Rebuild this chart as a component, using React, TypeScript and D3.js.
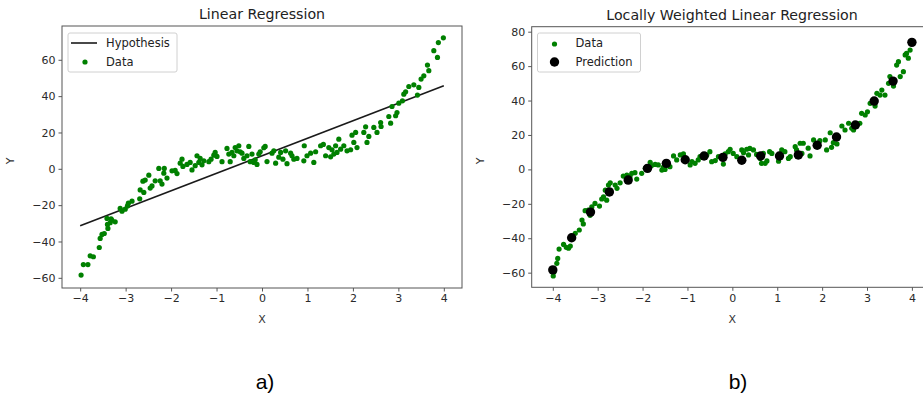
import React, { useRef, useEffect } from 'react'
import * as d3 from 'd3'

// Linear regression panel: scattered data
const lrDataX = [
  -3.98, -3.93, -3.83, -3.78, -3.71, -3.58, -3.56, -3.52, -3.47, -3.39, -3.4, -3.34, -3.3, -3.41, -3.32,
  -3.23, -3.12, -3.08, -3.01, -2.96, -2.94, -2.86, -2.69, -2.68, -2.6, -2.62, -2.57, -2.49, -2.46, -2.42,
  -2.35, -2.27, -2.24, -2.2, -2.16, -2.15, -2.09, -1.98, -1.91, -1.87, -1.8, -1.76, -1.74, -1.65, -1.58,
  -1.54, -1.47, -1.43, -1.39, -1.36, -1.32, -1.28, -1.17, -1.12, -1.06, -1.03, -0.99, -0.88, -0.77, -0.73,
  -0.7, -0.66, -0.62, -0.59, -0.55, -0.51, -0.48, -0.44, -0.4, -0.33, -0.29, -0.26, -0.22, -0.18, -0.15,
  -0.11, -0.07, -0.04, 0.04, 0.07, 0.11, 0.22, 0.26, 0.3, 0.37, 0.41, 0.46, 0.52, 0.55, 0.63,
  0.66, 0.7, 0.77, 0.92, 0.93, 0.99, 1.07, 1.14, 1.18, 1.29, 1.35, 1.4, 1.47, 1.51, 1.54,
  1.58, 1.62, 1.65, 1.69, 1.73, 1.8, 1.87, 1.95, 1.98, 2.02, 2.06, 2.09, 2.24, 2.28, 2.31,
  2.35, 2.46, 2.53, 2.61, 2.62, 2.79, 2.83, 2.86, 2.94, 2.97, 3.01, 3.09, 3.12, 3.16, 3.23,
  3.34, 3.42, 3.45, 3.5, 3.56, 3.64, 3.67, 3.78, 3.86, 3.88, 3.99,
]
const lrDataY = [
  -58.5, -52.7, -52.7, -47.9, -48.4, -43.3, -38.3, -36.1, -35.6, -32.8, -30.6, -29.7, -28.3, -27.3, -27.5,
  -29.2, -21.8, -23.3, -22.2, -20.4, -18.9, -17.8, -16.5, -11.6, -13.0, -6.8, -6.2, -3.5, -10.6, -9.4,
  -6.6, 0.2, -6.6, -8.4, -2.4, 0.2, -5.1, -1.1, -0.9, -2.6, 3.1, 5.3, 1.3, 2.4, 3.5,
  -0.6, 1.7, 7.2, 3.5, 5.7, 2.2, 4.4, 3.9, 5.3, 7.5, 9.0, 6.8, 3.9, 11.2, 8.1,
  3.9, 9.0, 7.2, 11.7, 9.9, 12.7, 9.4, 8.6, 5.7, 7.2, 12.3, 3.9, 8.1, 3.5, 5.0,
  2.4, 8.1, 9.4, 11.6, 12.3, 4.0, 8.6, 9.9, 3.1, 6.4, 9.0, 5.3, 9.9, 2.8, 8.6,
  7.2, 5.3, 5.7, 4.4, 12.7, 7.2, 8.6, 3.5, 9.4, 12.7, 13.4, 7.2, 11.7, 6.6, 10.5,
  8.1, 12.7, 9.0, 16.3, 10.8, 12.7, 9.9, 10.5, 18.5, 14.5, 20.0, 11.7, 20.0, 23.1, 14.5,
  17.8, 22.8, 20.0, 25.5, 23.3, 28.8, 25.1, 34.3, 29.2, 31.0, 36.1, 37.4, 41.1, 42.4, 45.3,
  46.2, 40.6, 44.8, 49.4, 51.2, 57.1, 54.0, 65.0, 61.3, 69.5, 72.1,
]
// fitted hypothesis line endpoints
const hypX = [-4, 4]
const hypY = [-31.4, 45.7]

// Locally weighted panel: scattered data
const lwDataX = [
  -3.99, -3.97, -3.91, -3.89, -3.86, -3.76, -3.7, -3.65, -3.61, -3.5, -3.41, -3.35, -3.32, -3.28, -3.21,
  -3.17, -3.13, -3.06, -2.96, -2.91, -2.87, -2.83, -2.8, -2.76, -2.72, -2.61, -2.57, -2.5, -2.43, -2.35,
  -2.28, -2.24, -2.17, -2.13, -2.02, -1.94, -1.83, -1.8, -1.72, -1.65, -1.57, -1.54, -1.5, -1.39, -1.31,
  -1.24, -1.16, -1.09, -0.94, -0.9, -0.83, -0.76, -0.72, -0.57, -0.5, -0.46, -0.38, -0.31, -0.2, -0.16,
  -0.09, -0.05, 0.02, 0.1, 0.21, 0.25, 0.32, 0.36, 0.39, 0.47, 0.54, 0.62, 0.65, 0.69, 0.73,
  0.77, 0.83, 0.88, 1.03, 1.06, 1.1, 1.17, 1.25, 1.29, 1.4, 1.43, 1.51, 1.55, 1.58, 1.69,
  1.73, 1.81, 1.92, 1.95, 2.07, 2.1, 2.18, 2.21, 2.25, 2.33, 2.36, 2.44, 2.51, 2.59, 2.66,
  2.7, 2.77, 2.84, 2.88, 2.96, 3.01, 3.07, 3.18, 3.22, 3.29, 3.33, 3.4, 3.48, 3.51, 3.59,
  3.66, 3.7, 3.74, 3.81, 3.85, 3.88, 3.92, 3.96,
]
const lwDataY = [
  -61.9, -59.4, -54.6, -51.7, -46.3, -43.6, -45.3, -45.8, -44.5, -37.1, -35.2, -29.4, -31.7, -24.0, -23.6,
  -26.7, -21.7, -19.8, -21.3, -17.2, -15.9, -12.1, -17.9, -9.1, -7.8, -9.1, -11.0, -7.8, -3.9, -3.3,
  -4.2, -2.3, -1.9, -5.6, -2.3, 0.6, 4.1, 2.2, 2.9, 2.6, -0.4, 1.2, 0.0, 1.6, 7.8,
  5.5, 8.4, 9.0, 2.6, 4.5, 3.5, 5.5, 7.4, 8.4, 10.3, 4.5, 5.1, 7.4, 3.1, 9.0,
  10.3, 11.7, 9.3, 7.4, 11.3, 9.7, 11.7, 8.4, 12.2, 11.3, 8.7, 6.4, 3.5, 9.3, 3.5,
  4.9, 10.3, 9.3, 4.8, 8.9, 11.3, 10.3, 6.4, 7.4, 13.2, 11.3, 15.2, 9.3, 15.2, 12.3,
  7.8, 17.1, 15.2, 16.7, 17.1, 11.3, 21.3, 12.8, 15.5, 14.8, 19.0, 25.2, 22.9, 26.8, 23.9,
  22.9, 25.2, 26.8, 32.6, 31.6, 33.5, 38.4, 36.8, 44.2, 43.2, 46.1, 43.2, 50.0, 53.9, 48.4,
  60.6, 62.6, 53.9, 56.8, 66.5, 67.4, 64.6, 69.3,
]
// predictions at query points
const predX = [
  -4, -3.58, -3.16, -2.74, -2.32, -1.89, -1.47, -1.05, -0.63, -0.21, 0.21, 0.63, 1.05, 1.47, 1.89, 2.32,
  2.74, 3.16, 3.58, 4,
]
const predY = [
  -58.4, -39.7, -24.8, -13.1, -6.2, 0.6, 3.5, 5.6, 7.8, 7.0, 5.3, 7.8, 7.8, 8.4, 14.0, 18.8, 25.8, 39.7,
  51.3, 73.8,
]

const xTicks = [-4, -3, -2, -1, 0, 1, 2, 3, 4]
const lrYTicks = [-60, -40, -20, 0, 20, 40, 60]
const lwYTicks = [-60, -40, -20, 0, 20, 40, 60, 80]

const FONT = 'DejaVu Sans, sans-serif'
const GREEN = '#008000'
const DOT_R = 2.6
const PRED_R = 4.7

interface Panel {
  left: number
  right: number
  top: number
  bottom: number
  xDomain: [number, number]
  yDomain: [number, number]
  yTicks: number[]
  title: string
  titleX: number
  caption: string
  captionX: number
}

const WIDTH = 923
const HEIGHT = 397

const minus = (d: d3.NumberValue) => String(d).replace('-', '\u2212')

export default function App() {
  const svgRef = useRef<SVGSVGElement>(null)

  useEffect(() => {
    if (!svgRef.current) return
    const svg = d3.select(svgRef.current)
    svg.selectAll('*').remove()

    const drawPanel = (p: Panel) => {
      const x = d3.scaleLinear().domain(p.xDomain).range([p.left, p.right])
      const y = d3.scaleLinear().domain(p.yDomain).range([p.bottom, p.top])
      const g = svg.append('g')

      const clipId = `clip-${Math.round(p.left)}`
      svg
        .append('clipPath')
        .attr('id', clipId)
        .append('rect')
        .attr('x', p.left)
        .attr('y', p.top)
        .attr('width', p.right - p.left)
        .attr('height', p.bottom - p.top)

      // axes
      const xAxis = g
        .append('g')
        .attr('transform', `translate(0, ${p.bottom})`)
        .call(d3.axisBottom(x).tickValues(xTicks).tickSizeOuter(0).tickSize(3.5).tickPadding(3).tickFormat(minus))
      const yAxis = g
        .append('g')
        .attr('transform', `translate(${p.left}, 0)`)
        .call(d3.axisLeft(y).tickValues(p.yTicks).tickSizeOuter(0).tickSize(3.5).tickPadding(3).tickFormat(minus))
      ;[xAxis, yAxis].forEach(a => {
        a.select('.domain').remove()
        a.selectAll('.tick line').attr('stroke', '#444').attr('stroke-width', 0.9)
        a.selectAll('.tick text').attr('fill', '#2a2a2a').style('font-family', FONT).style('font-size', '11px')
      })

      // frame
      g.append('rect')
        .attr('x', p.left)
        .attr('y', p.top)
        .attr('width', p.right - p.left)
        .attr('height', p.bottom - p.top)
        .attr('fill', 'none')
        .attr('stroke', '#555')
        .attr('stroke-width', 1)

      // labels
      g.append('text')
        .attr('x', x(0))
        .attr('y', 323)
        .attr('text-anchor', 'middle')
        .style('font-family', FONT)
        .style('font-size', '11px')
        .attr('fill', '#333')
        .text('X')
      g.append('text')
        .attr('transform', `translate(${p.left - 48}, ${(p.top + p.bottom) / 2 + 4}) rotate(-90)`)
        .attr('text-anchor', 'middle')
        .style('font-family', FONT)
        .style('font-size', '11px')
        .attr('fill', '#333')
        .text('Y')
      g.append('text')
        .attr('x', p.titleX)
        .attr('y', p.top - 7)
        .attr('text-anchor', 'middle')
        .style('font-family', FONT)
        .style('font-size', '14.2px')
        .attr('fill', '#222')
        .text(p.title)
      g.append('text')
        .attr('x', p.captionX)
        .attr('y', 389)
        .attr('text-anchor', 'middle')
        .style('font-family', 'Liberation Sans, Arial, sans-serif')
        .style('font-size', '21px')
        .attr('fill', '#000')
        .text(p.caption)

      return { x, y, plot: g.append('g').attr('clip-path', `url(#${clipId})`) }
    }

    // left panel
    const a = drawPanel({
      left: 62,
      right: 462,
      top: 26,
      bottom: 288,
      xDomain: [-4.4, 4.4],
      yDomain: [-65.6, 78.6],
      yTicks: lrYTicks,
      title: 'Linear Regression',
      titleX: 262,
      caption: 'a)',
      captionX: 265,
    })
    a.plot
      .append('path')
      .datum(hypX.map((v, i) => [v, hypY[i]] as [number, number]))
      .attr('d', d3.line().x(d => a.x(d[0])).y(d => a.y(d[1])))
      .attr('stroke', '#1a1a1a')
      .attr('stroke-width', 1.6)
      .attr('fill', 'none')
    a.plot
      .selectAll('.lr-dot')
      .data(lrDataX.map((v, i) => [v, lrDataY[i]]))
      .enter()
      .append('circle')
      .attr('cx', d => a.x(d[0]))
      .attr('cy', d => a.y(d[1]))
      .attr('r', DOT_R)
      .attr('fill', GREEN)

    // left legend
    const la = svg.append('g').attr('transform', 'translate(68, 33)')
    la.append('rect').attr('width', 109).attr('height', 39).attr('rx', 2).attr('fill', '#fff').attr('fill-opacity', 0.85).attr('stroke', '#d0d0d0')
    la.append('line').attr('x1', 3).attr('x2', 29).attr('y1', 10).attr('y2', 10).attr('stroke', '#1a1a1a').attr('stroke-width', 1.6)
    la.append('circle').attr('cx', 17).attr('cy', 29).attr('r', DOT_R).attr('fill', GREEN)
    la.append('text').attr('x', 38).attr('y', 14).text('Hypothesis')
    la.append('text').attr('x', 38).attr('y', 32.5).text('Data')
    la.selectAll('text').style('font-family', FONT).style('font-size', '11.5px').attr('fill', '#222')

    // right panel
    const b = drawPanel({
      left: 531.7,
      right: 933,
      top: 26.7,
      bottom: 287.3,
      xDomain: [-4.47, 4.47],
      yDomain: [-68.5, 82.9],
      yTicks: lwYTicks,
      title: 'Locally Weighted Linear Regression',
      titleX: 732,
      caption: 'b)',
      captionX: 738,
    })
    b.plot
      .selectAll('.lw-dot')
      .data(lwDataX.map((v, i) => [v, lwDataY[i]]))
      .enter()
      .append('circle')
      .attr('cx', d => b.x(d[0]))
      .attr('cy', d => b.y(d[1]))
      .attr('r', DOT_R)
      .attr('fill', GREEN)
    b.plot
      .selectAll('.pred-dot')
      .data(predX.map((v, i) => [v, predY[i]]))
      .enter()
      .append('circle')
      .attr('cx', d => b.x(d[0]))
      .attr('cy', d => b.y(d[1]))
      .attr('r', PRED_R)
      .attr('fill', '#000')

    // right legend
    const lb = svg.append('g').attr('transform', 'translate(537.5, 33)')
    lb.append('rect').attr('width', 103).attr('height', 39).attr('rx', 2).attr('fill', '#fff').attr('fill-opacity', 0.85).attr('stroke', '#d0d0d0')
    lb.append('circle').attr('cx', 17).attr('cy', 11).attr('r', DOT_R).attr('fill', GREEN)
    lb.append('circle').attr('cx', 17).attr('cy', 29).attr('r', PRED_R).attr('fill', '#000')
    lb.append('text').attr('x', 38).attr('y', 14).text('Data')
    lb.append('text').attr('x', 38).attr('y', 32.5).text('Prediction')
    lb.selectAll('text').style('font-family', FONT).style('font-size', '11.5px').attr('fill', '#222')
  }, [])

  return (
    <div style={{ position: 'fixed', left: 0, top: 0, width: WIDTH, height: HEIGHT, overflow: 'hidden', background: '#fff' }}>
      <svg ref={svgRef} width={WIDTH} height={HEIGHT} style={{ display: 'block' }} />
    </div>
  )
}
